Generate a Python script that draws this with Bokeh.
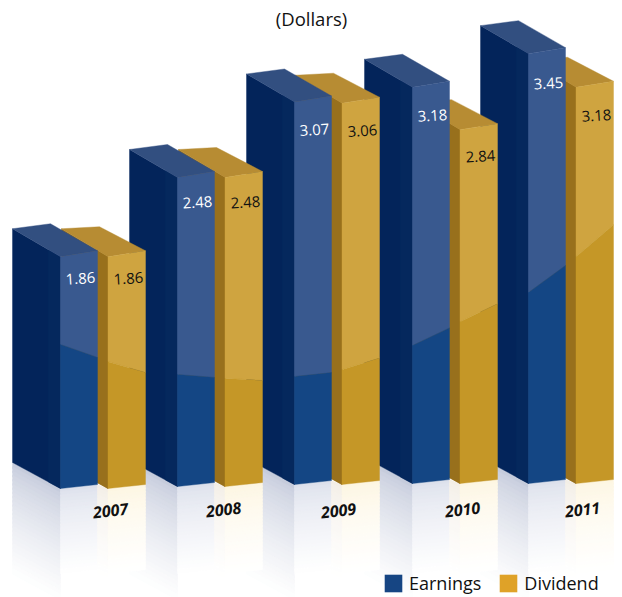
import numpy as np
from bokeh.plotting import figure
from bokeh.models import Range1d, Legend, LegendItem
from bokeh.core.properties import value
from bokeh.embed import file_html
from bokeh.resources import INLINE

# ---- chart data ----
years = ["2007", "2008", "2009", "2010", "2011"]
earnings = [1.86, 2.48, 3.07, 3.18, 3.45]
dividend = [1.86, 2.48, 3.06, 2.84, 3.18]
series_names = ["Earnings", "Dividend"]
unit_label = "(Dollars)"

# ---- layout (pixels of the picture) ----
W, H = 622, 597
S = 124.6              # pixels per dollar
Z = 488.0              # pixel row of zero for the first group
group_x = [60, 177, 294, 412, 528]
group_base = [488, 486, 484, 483, 483]
year_pos = [(110, 510), (223, 509), (338, 510), (462, 509), (582, 509)]
gloss_x = [0, 60, 97, 107, 145, 177, 214, 223, 261, 294, 332, 342, 378, 412, 448, 458, 495, 528, 565, 577, 612, 622]
gloss_y = [325, 344, 357, 361, 372, 374, 377, 378, 380, 376, 372, 369, 358, 345, 328, 322, 304, 292, 265, 255, 225, 218]


def Y(px):
    """pixel row to dollars"""
    return (Z - np.asarray(px, dtype=float)) / S


def gy(x):
    return float(np.interp(x, gloss_x, gloss_y))


def mix(a, b, t):
    ca = [int(a[i:i + 2], 16) for i in (1, 3, 5)]
    cb = [int(b[i:i + 2], 16) for i in (1, 3, 5)]
    return "#%02x%02x%02x" % tuple(round(p + (q - p) * t) for p, q in zip(ca, cb))


p = figure(width=W, height=H, output_backend="svg", toolbar_location=None,
           x_range=Range1d(0, W), y_range=Range1d(float(Y(H)), float(Y(0))),
           x_axis_type=None, y_axis_type=None, min_border=0,
           outline_line_color=None, background_fill_color="white")
p.grid.visible = False

xs, ys, cs = [], [], []


def add(pts, color):
    xs.append([q[0] for q in pts])
    ys.append([float(Y(q[1])) for q in pts])
    cs.append(color)


def reflection(xa, ya, xb, yb, color):
    n = 26
    for k in range(n):
        t = k / n
        h0 = k * (572 - ya) / n
        h1 = (k + 1.4) * (572 - ya) / n
        add([(xa, ya + h0), (xb, yb + h0), (xb, yb + h1), (xa, ya + h1)],
            mix(color, "#ffffff", t ** 0.7))


for g in reversed(range(5)):
    G, b = group_x[g], group_base[g]
    reflection(G - 48, b - 26, G, b, "#c6ccdc")
    reflection(G, b, G + 37, b - 4, "#dde1ec")
    reflection(G + 37, b - 4, G + 47.5, b, "#f3eee6")
    reflection(G + 47.5, b, G + 85, b - 4, "#fdf6e2")


def bar(x0, x1, x2, b, v, side_hi, side_lo, front_hi, front_lo, top, back):
    T = b - v * S
    # side face
    add([(x0, b - 26), (x1, b), (x1, T), (x0, T - 28)], side_lo)
    gs = gy(x1)
    add([(x1 - 12, b - 6.5), (x1, b), (x1, T), (x1 - 12, T - 7)], side_hi)
    # top face
    add([(x0, T - 28), (x0 + 38, T - back), (x2, T - 6), (x1, T)], top)
    # front face, glossy above the arc and saturated below it
    add([(x1, T), (x2, T - 6), (x2, gy(x2)), (x1, gs)], front_hi)
    add([(x1, gs), (x2, gy(x2)), (x2, b - 4), (x1, b)], front_lo)


for g in reversed(range(5)):
    G, b = group_x[g], group_base[g]
    bar(G + 1, G + 47.5, G + 85, b, dividend[g], "#98701c", "#98701c", "#cfa440", "#c59727", "#b78c33", 30)
    bar(G - 48, G, G + 37, b, earnings[g], "#05285d", "#03245a", "#39598f", "#144684", "#324f80", 33)

p.patches(xs, ys, fill_color=cs, line_color=cs, line_width=0.4)

# ---- value labels ----
rot = np.deg2rad(3.5)
lab_x, lab_y, lab_t, lab_c = [], [], [], []
for g in range(5):
    for vals, off, col in ((earnings, 20, "#ffffff"), (dividend, 68, "#111111")):
        v = vals[g]
        lab_x.append(group_x[g] + off)
        lab_y.append(float(Y(group_base[g] - v * S + 22 + 5 * (v - 1.86))))
        lab_t.append("%.2f" % v)
        lab_c.append(col)
p.text(lab_x, lab_y, text=lab_t, text_color=lab_c, text_font=value("Open Sans"),
       text_font_size="15px", text_align="center", text_baseline="middle", angle=rot)

# ---- year labels ----
p.text([q[0] for q in year_pos], [float(Y(q[1])) for q in year_pos], text=years,
       text_color="#111111", text_font=value("Open Sans"), text_font_size="16px",
       text_font_style="bold italic", text_align="center", text_baseline="middle",
       angle=np.deg2rad(7))

# ---- title ----
p.text([311], [float(Y(18))], text=[unit_label], text_color="#111111", text_font=value("Open Sans"),
       text_font_size="18.5px", text_align="center", text_baseline="middle")

# ---- legend (swatches take their colours from two off-canvas quads) ----
off_l, off_r = [-40], [-30]
off_t, off_b = [float(Y(0))], [float(Y(10))]
r_e = p.quad(left=off_l, right=off_r, top=off_t, bottom=off_b, fill_color="#164583", line_color=None)
r_d = p.quad(left=off_l, right=off_r, top=off_t, bottom=off_b, fill_color="#dfa228", line_color=None)
legend = Legend(items=[LegendItem(label=series_names[0], renderers=[r_e]),
                       LegendItem(label=series_names[1], renderers=[r_d])],
                orientation="horizontal", location=(382, 2), border_line_color=None,
                background_fill_alpha=0, margin=0, padding=0, spacing=16,
                glyph_width=22, glyph_height=22, label_standoff=5,
                label_text_font="Open Sans", label_text_font_size="18px",
                label_text_color="#111111", label_height=22)
p.add_layout(legend, "center")

open("out.html", "w").write(file_html(p, INLINE))
